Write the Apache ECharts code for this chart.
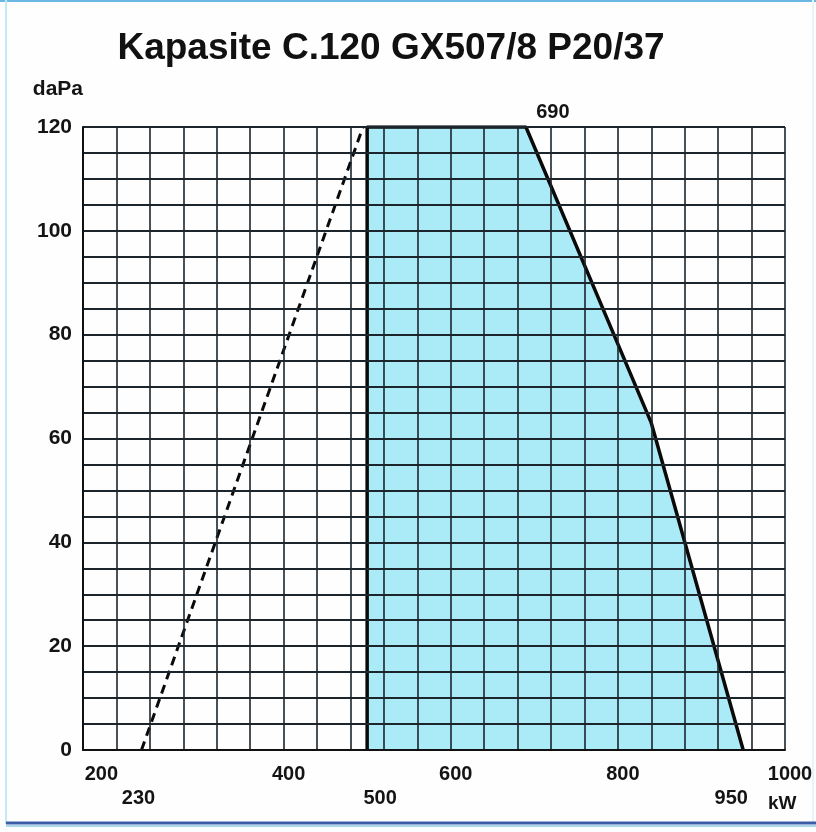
<!DOCTYPE html>
<html>
<head>
<meta charset="utf-8">
<script src="https://cdn.jsdelivr.net/npm/echarts@6/dist/echarts.min.js"></script>
<style>
html,body{margin:0;padding:0;background:#fefefe;}
#chart{width:816px;height:832px;}
</style>
</head>
<body>
<div id="chart"></div>
<script>
// ---- data ----
const titleText = 'Kapasite C.120 GX507/8 P20/37';
const yUnit = 'daPa';
const xUnit = 'kW';
const areaX = [500, 500, 690, 840, 950];
const areaY = [0, 120, 120, 63, 0];
const minLineX = [230, 495];
const minLineY = [0, 120];
const xTickLabels = [200, 400, 600, 800, 1000];
const xMarkLabels = [230, 500, 950];
const yTickLabels = [0, 20, 40, 60, 80, 100, 120];
const kinkLabelIndex = 2;

const FONT = "'Liberation Sans', Arial, sans-serif";
const TXT = {fontFamily: FONT, fontSize: 20, fontWeight: 'bold', color: '#141414'};
const chart = echarts.init(document.getElementById('chart'), null, {renderer: 'canvas'});

const areaData = areaX.map((x, i) => {
  const item = {value: [x, areaY[i]]};
  if (i === kinkLabelIndex) {
    item.label = Object.assign({
      show: true, position: 'top', distance: 5, offset: [27, 0],
      formatter: p => String(p.value[0])
    }, TXT);
  }
  return item;
});
const minData = minLineX.map((x, i) => [x, minLineY[i]]);

const option = {
  backgroundColor: '#fefefe',
  animation: false,
  title: {
    text: titleText, left: 386, top: 25, textAlign: 'center',
    textStyle: {fontFamily: FONT, fontSize: 37, fontWeight: 'bold', color: '#111'}
  },
  grid: {left: 83, right: 31, top: 127, bottom: 82, containLabel: false, outerBoundsMode: 'none'},
  xAxis: [{
    type: 'value', min: 160, max: 1000, interval: 40, z: 3,
    axisLine: {show: true, onZero: false, lineStyle: {color: '#111', width: 2}},
    axisTick: {show: false},
    splitLine: {show: true, lineStyle: {color: '#1b252b', width: 1.6}},
    axisLabel: Object.assign({
      customValues: xTickLabels, margin: 14,
      formatter: v => v === 200 ? '{l|' + v + '}' : '{r|' + v + '}',
      rich: {
        l: Object.assign({padding: [0, 30, 0, 0]}, TXT),
        r: Object.assign({padding: [0, 0, 0, 10]}, TXT)
      }
    }, TXT)
  }, {
    type: 'value', min: 160, max: 1000, interval: 40, position: 'bottom',
    axisLine: {show: false}, axisTick: {show: false}, splitLine: {show: false},
    axisLabel: Object.assign({
      customValues: xMarkLabels, margin: 38,
      formatter: v => v === 500 ? '{r|' + v + '}' : (v === 950 ? '{l|' + v + '}' : '{n|' + v + '}'),
      rich: {
        l: Object.assign({padding: [0, 24, 0, 0]}, TXT),
        r: Object.assign({padding: [0, 0, 0, 26]}, TXT),
        n: Object.assign({padding: [0, 6, 0, 0]}, TXT)
      }
    }, TXT),
    name: '\n' + xUnit, nameLocation: 'end', nameGap: -17, nameMoveOverlap: false,
    nameTextStyle: Object.assign({}, TXT, {fontSize: 19, verticalAlign: 'top', lineHeight: 36})
  }],
  yAxis: {
    type: 'value', min: 0, max: 120, interval: 5, z: 3,
    axisLine: {show: true, lineStyle: {color: '#111', width: 2}},
    axisTick: {show: false},
    splitLine: {show: true, lineStyle: {color: '#1b252b', width: 1.8}},
    axisLabel: Object.assign({customValues: yTickLabels, margin: 11}, TXT, {fontSize: 21}),
    name: yUnit, nameLocation: 'end', nameGap: 27, nameMoveOverlap: false,
    nameTextStyle: Object.assign({}, TXT, {fontSize: 21, align: 'right'})
  },
  series: [{
    type: 'line', data: areaData, xAxisIndex: 0,
    showSymbol: true, symbol: 'circle', symbolSize: 0,
    lineStyle: {color: '#0a0a0a', width: 3.5},
    areaStyle: {color: '#abeaf7', opacity: 1},
    z: 2, silent: true
  }, {
    type: 'line', data: minData, xAxisIndex: 0,
    showSymbol: false, symbol: 'none',
    lineStyle: {color: '#0a0a0a', width: 3, type: [9, 6]},
    z: 2, silent: true
  }],
  graphic: [
    {type: 'line', shape: {x1: 0, y1: 1, x2: 816, y2: 1}, style: {stroke: '#6cb6e2', lineWidth: 2}, silent: true},
    {type: 'line', shape: {x1: 6, y1: 0, x2: 6, y2: 824}, style: {stroke: '#c3e8f6', lineWidth: 2}, silent: true},
    {type: 'line', shape: {x1: 813, y1: 0, x2: 813, y2: 824}, style: {stroke: '#e6f4fa', lineWidth: 2}, silent: true},
    {type: 'line', shape: {x1: 6, y1: 823, x2: 816, y2: 823}, style: {stroke: '#3c5ea6', lineWidth: 3}, silent: true},
    {type: 'line', shape: {x1: 6, y1: 826, x2: 816, y2: 826}, style: {stroke: '#a9d8ef', lineWidth: 2}, silent: true}
  ]
};
chart.setOption(option);
</script>
</body>
</html>
